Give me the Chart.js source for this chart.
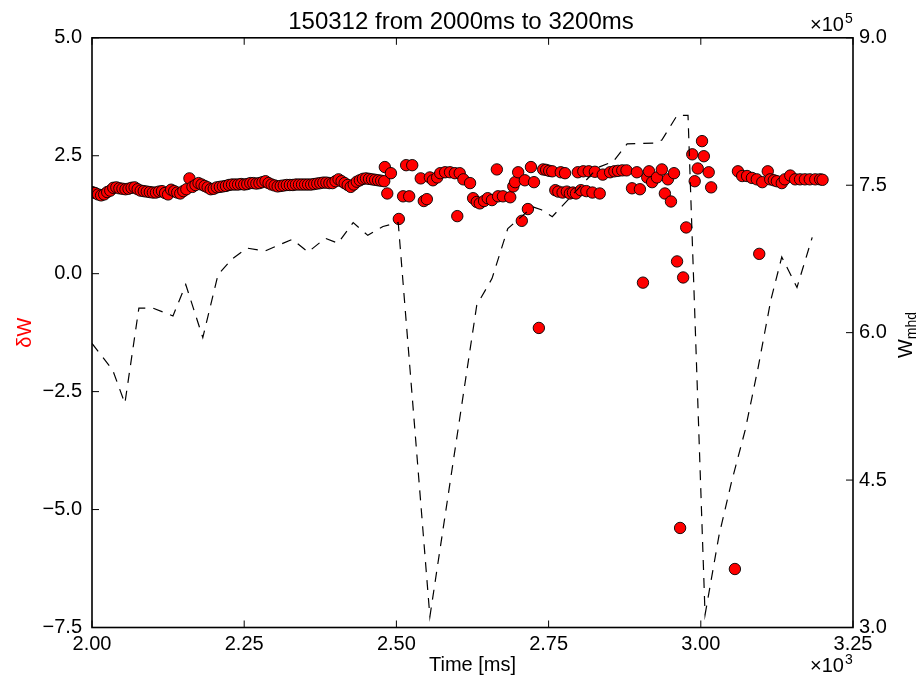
<!DOCTYPE html>
<html>
<head>
<meta charset="utf-8">
<script src="https://cdn.jsdelivr.net/npm/chart.js@4/dist/chart.umd.min.js"></script>
<style>
  body { margin: 0; background: #fff; }
  canvas { display: block; }
</style>
</head>
<body>
<canvas id="chart" width="922" height="683"></canvas>
<script>
// W_mhd (dashed line, right axis)
const wmhdTime = [2000, 2034, 2054, 2077, 2100, 2133, 2154, 2182, 2207, 2230, 2255, 2284, 2329, 2355, 2383, 2404, 2429, 2453, 2478, 2503,
  2555, 2632, 2657, 2683, 2724, 2738, 2756, 2831, 2856, 2879, 2925, 2936, 2961, 2979, 3007, 3030, 3050, 3073, 3094, 3115, 3133, 3158, 3183];
const wmhdValue = [589000, 562000, 528000, 625000, 625000, 617000, 649000, 595000, 659000, 675000, 686000, 683000, 695000, 682000, 696000, 691000, 712000, 699000, 708000, 712000,
  311000, 628000, 655000, 706000, 728000, 725000, 718000, 768000, 774000, 792000, 793000, 796000, 821000, 821000, 313000, 394000, 447000, 501000, 564000, 633000, 677000, 646000, 697000];

// dW (red dots, left axis)
const dwTime = [
  2000, 2005, 2010, 2015, 2020, 2025, 2030, 2035, 2040, 2045, 2050, 2055, 2060, 2065, 2070, 2075, 2080, 2085, 2090, 2095,
  2100, 2105, 2110, 2115, 2120, 2125, 2130, 2135, 2140, 2145, 2150, 2155, 2160, 2165, 2170, 2175, 2180, 2185, 2190, 2195,
  2200, 2205, 2210, 2215, 2220, 2225, 2230, 2235, 2240, 2245, 2250, 2255, 2260, 2265, 2270, 2275, 2280, 2285, 2290, 2295,
  2300, 2305, 2310, 2315, 2320, 2325, 2330, 2335, 2340, 2345, 2350, 2355, 2360, 2365, 2370, 2375, 2380, 2385, 2390, 2395,
  2400, 2405, 2410, 2415, 2420, 2425, 2430, 2435, 2440, 2445, 2450, 2455, 2460, 2465, 2470, 2475, 2480,
  2481, 2485, 2491, 2504, 2511, 2516, 2521, 2526, 2540, 2545, 2550, 2555, 2560, 2567, 2572, 2580, 2588, 2596, 2600, 2604,
  2610, 2621, 2626, 2632, 2637, 2644, 2650, 2657, 2665, 2667, 2675, 2687, 2692, 2695, 2700, 2706, 2711, 2716, 2721, 2726,
  2734, 2741, 2746, 2751, 2756, 2761, 2766, 2770, 2773, 2777, 2780, 2785, 2790, 2795, 2798, 2803, 2807, 2812, 2816, 2822,
  2826, 2834, 2839, 2851, 2858, 2864, 2871, 2878, 2887, 2895, 2900, 2905, 2912, 2915, 2920, 2928, 2936, 2941, 2946, 2951,
  2956, 2961, 2966, 2971, 2976, 2986, 2990, 2995, 3002, 3005, 3013, 3017, 3056, 3061, 3068, 3076, 3084, 3092, 3096, 3101,
  3110, 3114, 3120, 3125, 3133, 3138, 3147, 3155, 3163, 3171, 3179, 3188, 3196, 3200];
const dwValue = [
  1.73, 1.71, 1.68, 1.66, 1.68, 1.73, 1.76, 1.82, 1.83, 1.81, 1.80, 1.79, 1.80, 1.82, 1.83, 1.79, 1.76, 1.75, 1.74, 1.73,
  1.72, 1.72, 1.74, 1.75, 1.71, 1.68, 1.78, 1.75, 1.72, 1.70, 1.75, 1.79, 2.02, 1.84, 1.88, 1.92, 1.89, 1.86, 1.83, 1.79,
  1.80, 1.83, 1.84, 1.85, 1.86, 1.88, 1.89, 1.89, 1.89, 1.90, 1.89, 1.90, 1.92, 1.92, 1.91, 1.92, 1.94, 1.96, 1.92, 1.89,
  1.87, 1.85, 1.86, 1.87, 1.88, 1.88, 1.88, 1.89, 1.89, 1.89, 1.89, 1.89, 1.89, 1.90, 1.91, 1.92, 1.93, 1.93, 1.92, 1.92,
  1.96, 2.00, 1.96, 1.92, 1.88, 1.84, 1.89, 1.95, 1.98, 2.01, 2.02, 2.01, 2.00, 1.99, 1.98, 1.97, 1.96,
  2.26, 1.70, 2.13, 1.16, 1.64, 2.30, 1.64, 2.30, 2.02, 1.54, 1.58, 2.04, 1.98, 2.04, 2.13, 2.15, 2.15, 2.13, 1.22, 2.13,
  2.00, 1.92, 1.60, 1.52, 1.49, 1.54, 1.60, 1.56, 2.21, 1.64, 1.64, 1.62, 1.85, 1.94, 2.15, 1.12, 1.98, 1.37, 2.26, 1.94,
  -1.15, 2.21, 2.20, 2.18, 2.17, 1.77, 1.74, 2.15, 1.72, 2.13, 1.74, 1.70, 1.72, 1.70, 2.15, 1.77, 2.17, 1.75, 2.17, 1.72,
  2.16, 1.70, 2.10, 2.15, 2.17, 2.18, 2.19, 2.19, 1.81, 2.15, 1.79, -0.19, 2.04, 2.17, 1.94, 2.04, 2.21, 1.70, 2.00, 1.53,
  2.13, 0.26, -5.39, -0.08, 0.98, 2.53, 1.96, 2.23, 2.81, 2.49, 2.15, 1.83, -6.26, 2.17, 2.07, 2.07, 2.03, 2.00, 0.42, 1.94,
  2.17, 2.00, 1.98, 1.96, 1.92, 2.00, 2.08, 2.00, 2.00, 2.00, 2.00, 2.00, 2.00, 1.99];

const xTicks = [2000, 2250, 2500, 2750, 3000, 3250];

Chart.defaults.font.family = '"Liberation Sans", Arial, sans-serif';
Chart.defaults.font.size = 20;
Chart.defaults.color = '#000';

function sup(ctx, x, y, base, exp) {
  ctx.font = '20px "Liberation Sans", Arial, sans-serif';
  ctx.textAlign = 'left';
  ctx.textBaseline = 'alphabetic';
  ctx.fillText(base, x, y);
  const w = ctx.measureText(base).width;
  ctx.font = '14px "Liberation Sans", Arial, sans-serif';
  ctx.fillText(exp, x + w + 1, y - 8);
}

const frameTicks = {
  id: 'frameTicks',
  afterDraw(chart) {
    const { ctx, chartArea: a, scales } = chart;
    ctx.save();
    ctx.strokeStyle = '#000';
    ctx.lineWidth = 1;
    ctx.beginPath();
    scales.x.ticks.forEach(t => {
      const px = scales.x.getPixelForValue(t.value);
      ctx.moveTo(px, a.bottom); ctx.lineTo(px, a.bottom - 7);
      ctx.moveTo(px, a.top); ctx.lineTo(px, a.top + 7);
    });
    scales.y.ticks.forEach(t => {
      const py = scales.y.getPixelForValue(t.value);
      ctx.moveTo(a.left, py); ctx.lineTo(a.left + 7, py);
    });
    scales.y1.ticks.forEach(t => {
      const py = scales.y1.getPixelForValue(t.value);
      ctx.moveTo(a.right, py); ctx.lineTo(a.right - 7, py);
    });
    ctx.stroke();
    ctx.lineWidth = 1.6;
    ctx.strokeRect(a.left, a.top, a.right - a.left, a.bottom - a.top);

    ctx.fillStyle = '#000';
    sup(ctx, 810, 31, '\u00d710', '5');
    sup(ctx, 810, 672, '\u00d710', '3');

    // right axis label W_mhd
    ctx.translate(905, 335);
    ctx.rotate(-Math.PI / 2);
    ctx.textBaseline = 'alphabetic';
    ctx.textAlign = 'left';
    ctx.font = '20px "Liberation Sans", Arial, sans-serif';
    const wW = ctx.measureText('W').width;
    ctx.font = '14px "Liberation Sans", Arial, sans-serif';
    const wS = ctx.measureText('mhd').width;
    const x0 = -(wW + wS) / 2;
    ctx.font = '20px "Liberation Sans", Arial, sans-serif';
    ctx.fillText('W', x0, 7);
    ctx.font = '14px "Liberation Sans", Arial, sans-serif';
    ctx.fillText('mhd', x0 + wW, 11);
    ctx.restore();
  }
};

new Chart(document.getElementById('chart'), {
  type: 'scatter',
  data: {
    datasets: [
      {
        label: 'Wmhd',
        data: wmhdTime.map((t, i) => ({ x: t, y: wmhdValue[i] })),
        yAxisID: 'y1',
        showLine: true,
        borderColor: '#000',
        borderWidth: 1.2,
        borderDash: [10, 8],
        pointRadius: 0,
        fill: false,
        order: 0
      },
      {
        label: 'dW',
        data: dwTime.map((t, i) => ({ x: t, y: dwValue[i] })),
        yAxisID: 'y',
        backgroundColor: '#ff0000',
        borderColor: '#000',
        borderWidth: 0.9,
        pointRadius: 5.7,
        order: 1
      }
    ]
  },
  options: {
    responsive: false,
    animation: false,
    layout: { padding: 0 },
    plugins: {
      legend: { display: false },
      tooltip: { enabled: false },
      title: {
        display: true,
        text: '150312 from 2000ms to 3200ms',
        font: { size: 24, weight: 'normal' },
        color: '#000',
        padding: { top: 8, bottom: 1 }
      }
    },
    scales: {
      x: {
        type: 'linear',
        min: 2000,
        max: 3250,
        afterBuildTicks: s => { s.ticks = xTicks.map(v => ({ value: v })); },
        ticks: { callback: v => (v / 1000).toFixed(2), padding: 5, autoSkip: false, maxRotation: 0 },
        grid: { display: false, drawTicks: false },
        border: { display: false },
        title: { display: true, text: 'Time [ms]', padding: { top: 0, bottom: 6 } },
        afterFit: s => { s.height = 55.5; }
      },
      y: {
        position: 'left',
        min: -7.5,
        max: 5,
        ticks: { stepSize: 2.5, callback: v => v.toFixed(1).replace('-', '\u2212'), padding: 10 },
        grid: { display: false, drawTicks: false },
        border: { display: false },
        title: { display: true, text: '\u03b4W', color: '#ff0000', padding: { top: 13, bottom: 0 } },
        afterFit: s => { s.width = 92; }
      },
      y1: {
        position: 'right',
        min: 300000,
        max: 900000,
        ticks: { stepSize: 150000, callback: v => (v / 100000).toFixed(1), padding: 6 },
        grid: { display: false, drawTicks: false },
        border: { display: false },
        afterFit: s => { s.width = 69; }
      }
    }
  },
  plugins: [frameTicks]
});
</script>
</body>
</html>
